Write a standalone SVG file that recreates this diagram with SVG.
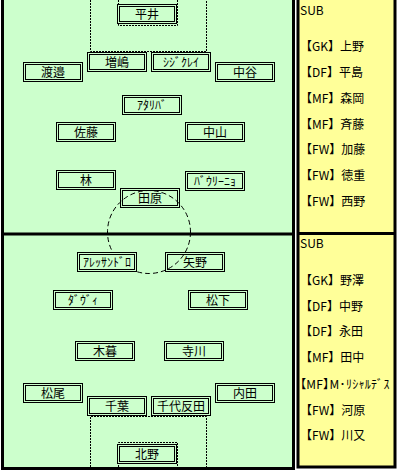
<svg xmlns="http://www.w3.org/2000/svg" width="400" height="474" viewBox="0 0 400 474">
<style>
.o{fill:#CCFFCC;stroke:#000;stroke-width:1}
.i{fill:none;stroke:#000;stroke-width:1}
.t{font-family:"Noto Sans CJK JP","Noto Sans",sans-serif;font-size:12px;fill:#000;text-anchor:middle}
.s{font-family:"Noto Sans CJK JP","Noto Sans",sans-serif;font-size:12px;fill:#000}
.p{font-feature-settings:"palt";letter-spacing:0.3px}
.dot{fill:none;stroke:#000;stroke-width:1;stroke-dasharray:2 1}
.dash{fill:none;stroke:#000;stroke-width:1;stroke-dasharray:5 3}
</style>
<defs>
<g id="box"><rect class="o" x="0.5" y="0.5" width="59" height="19"/><rect class="i" x="2.5" y="2.5" width="55" height="15"/></g>
</defs>
<rect x="0" y="0" width="400" height="474" fill="#fff"/>
<g id="field">
<rect x="2.5" y="-3" width="291" height="471.5" fill="#CCFFCC" stroke="#000" stroke-width="3"/>
<line x1="2" y1="234" x2="294" y2="234" stroke="#000" stroke-width="3"/>
<rect x="298" y="-3" width="97" height="470" fill="#FFFF99" stroke="#000" stroke-width="3"/>
<line x1="297" y1="233.5" x2="396" y2="233.5" stroke="#000" stroke-width="3"/>
</g>
<g id="markings">
<polyline class="dot" points="90.5,0 90.5,51.5 206.5,51.5 206.5,0"/>
<polyline class="dot" points="118.5,0 118.5,25.5 177.5,25.5 177.5,0"/>
<polyline class="dot" points="90.5,467 90.5,416.5 206.5,416.5 206.5,467"/>
<polyline class="dot" points="118.5,467 118.5,442.5 177.5,442.5 177.5,467"/>
</g>
<g id="n-hirai"><use href="#box" x="117" y="4"/><text class="t" x="147" y="18.5">平井</text></g>
<g id="n-masushima"><use href="#box" x="87" y="52"/><text class="t" x="117" y="66.5">増嶋</text></g>
<g id="n-sidiclei"><use href="#box" x="151" y="52"/><text class="t" x="181" y="66.5">ｼｼﾞｸﾚｲ</text></g>
<g id="n-watanabe"><use href="#box" x="23" y="62"/><text class="t" x="53" y="76.5">渡邉</text></g>
<g id="n-nakatani"><use href="#box" x="215" y="62"/><text class="t" x="245" y="76.5">中谷</text></g>
<g id="n-ataliba"><use href="#box" x="122" y="95"/><text class="t" x="152" y="109.5">ｱﾀﾘﾊﾞ</text></g>
<g id="n-sato"><use href="#box" x="56" y="122"/><text class="t" x="86" y="136.5">佐藤</text></g>
<g id="n-nakayama"><use href="#box" x="185" y="122"/><text class="t" x="215" y="136.5">中山</text></g>
<g id="n-hayashi"><use href="#box" x="56" y="170"/><text class="t" x="86" y="184.5">林</text></g>
<g id="n-paulinho"><use href="#box" x="185" y="171"/><text class="t" x="215" y="185.5">ﾊﾞｳﾘｰﾆｮ</text></g>
<g id="n-tahara"><use href="#box" x="120" y="188"/><text class="t" x="150" y="202.5">田原</text></g>
<g id="n-yano"><use href="#box" x="165" y="252"/><text class="t" x="195" y="266.5">矢野</text></g>
<g id="circle"><circle class="dash" cx="149" cy="232" r="41.5"/></g>
<g id="n-alessandro"><use href="#box" x="77" y="252"/><text class="t" x="107" y="266.5">ｱﾚｯｻﾝﾄﾞﾛ</text></g>
<g id="n-davi"><use href="#box" x="53" y="290"/><text class="t" x="83" y="304.5">ﾀﾞｳﾞｨ</text></g>
<g id="n-matsushita"><use href="#box" x="188" y="290"/><text class="t" x="218" y="304.5">松下</text></g>
<g id="n-kogure"><use href="#box" x="75" y="341"/><text class="t" x="105" y="355.5">木暮</text></g>
<g id="n-terakawa"><use href="#box" x="164" y="341"/><text class="t" x="194" y="355.5">寺川</text></g>
<g id="n-matsuo"><use href="#box" x="23" y="383"/><text class="t" x="53" y="397.5">松尾</text></g>
<g id="n-uchida"><use href="#box" x="215" y="383"/><text class="t" x="245" y="397.5">内田</text></g>
<g id="n-chiba"><use href="#box" x="87" y="396"/><text class="t" x="117" y="410.5">千葉</text></g>
<g id="n-chiyotanda"><use href="#box" x="151" y="396"/><text class="t" x="181" y="410.5">千代反田</text></g>
<g id="n-kitano"><use href="#box" x="117" y="444"/><text class="t" x="147" y="458.5">北野</text></g>
<g id="sub-top">
<text class="s" x="300" y="14.5">SUB</text>
<text class="s" x="300" y="51">【GK】上野</text>
<text class="s" x="300" y="77">【DF】平島</text>
<text class="s" x="300" y="102.5">【MF】森岡</text>
<text class="s" x="300" y="128.5">【MF】斉藤</text>
<text class="s" x="300" y="154">【FW】加藤</text>
<text class="s" x="300" y="180">【FW】徳重</text>
<text class="s" x="300" y="205.5">【FW】西野</text>
</g>
<g id="sub-bottom">
<text class="s" x="300" y="247.5">SUB</text>
<text class="s" x="300" y="284.5">【GK】野澤</text>
<text class="s" x="300" y="310.5">【DF】中野</text>
<text class="s" x="300" y="336">【DF】永田</text>
<text class="s" x="300" y="361.5">【MF】田中</text>
<text class="s p" x="300" y="388.5">【MF】M･ﾘｼｬﾙﾃﾞｽ</text>
<text class="s" x="300" y="414.5">【FW】河原</text>
<text class="s" x="300" y="440">【FW】川又</text>
</g>
</svg>
